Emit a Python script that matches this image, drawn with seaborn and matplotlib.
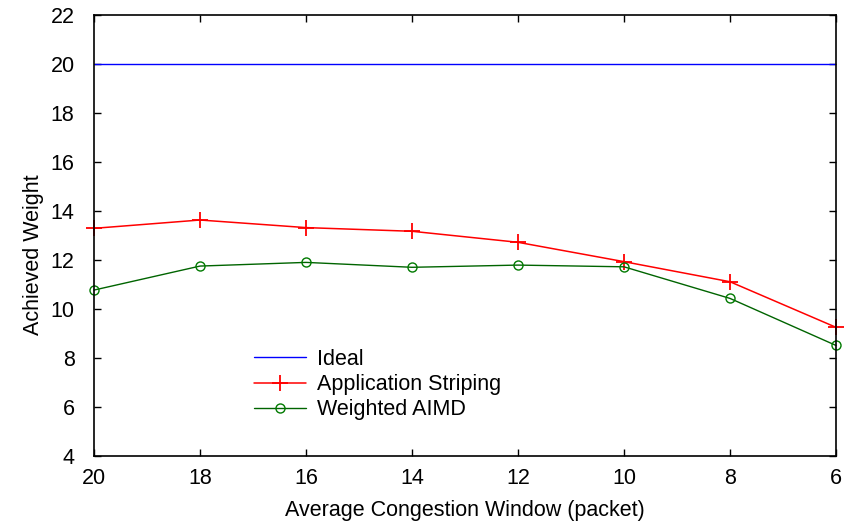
import matplotlib
matplotlib.use("Agg")
import matplotlib.pyplot as plt
import seaborn as sns
import pandas as pd

cwnd = [20, 18, 16, 14, 12, 10, 8, 6]
ideal = [20, 20, 20, 20, 20, 20, 20, 20]
app_striping = [13.28, 13.62, 13.31, 13.16, 12.71, 11.92, 11.10, 9.24]
weighted_aimd = [10.76, 11.74, 11.89, 11.69, 11.78, 11.71, 10.42, 8.50]

sns.set_theme(style="white")
plt.rcParams['font.family'] = ['Liberation Sans', 'DejaVu Sans']
plt.rcParams.update({"text.color": "black", "axes.labelcolor": "black",
                     "xtick.color": "black", "ytick.color": "black"})

FS = 15.5
fig = plt.figure(figsize=(8.48, 5.26), dpi=100)
ax = fig.add_axes([94 / 848, 1 - 455.7 / 526, (836 - 94) / 848, (455.7 - 14.7) / 526])

df = pd.DataFrame({"x": cwnd, "ideal": ideal, "app": app_striping, "aimd": weighted_aimd})

sns.lineplot(data=df, x="x", y="ideal", ax=ax, color="#0000ff", linewidth=1.0, label="Ideal")
sns.lineplot(data=df, x="x", y="app", ax=ax, color="#ff0000", linewidth=1.1, marker="+",
             markersize=12, markeredgewidth=1.3, markeredgecolor="#ff0000",
             label="Application Striping", clip_on=False)
sns.lineplot(data=df, x="x", y="aimd", ax=ax, color="#006400", linewidth=1.0, marker="o",
             markersize=6.5, markerfacecolor="none", markeredgecolor="#007a00", markeredgewidth=1.0,
             label="Weighted AIMD", clip_on=False)

ax.set_xlim(20, 6)
ax.set_ylim(4, 22)
ax.set_xticks([20, 18, 16, 14, 12, 10, 8, 6])
ax.set_yticks([4, 6, 8, 10, 12, 14, 16, 18, 20, 22])
ax.tick_params(axis="both", direction="in", length=5, width=1, labelsize=FS, color="black",
               labelcolor="black", top=True, right=True, bottom=True, left=True)
ax.tick_params(axis="y", pad=14)
ax.tick_params(axis="x", pad=9)
for s in ax.spines.values():
    s.set_color("black")
    s.set_linewidth(1.2)

ax.set_xlabel("Average Congestion Window (packet)", fontsize=FS, labelpad=8)
ax.set_ylabel("Achieved Weight", fontsize=FS)
ax.yaxis.set_label_coords(-0.068, 0.455)

leg = ax.legend(loc="upper left", bbox_to_anchor=(0.204, 0.262), frameon=False, fontsize=FS,
                handlelength=2.4, handletextpad=0.55, labelspacing=0.2, borderaxespad=0)
for t in leg.get_texts():
    t.set_color("black")

fig.savefig("out.png", dpi=100)
